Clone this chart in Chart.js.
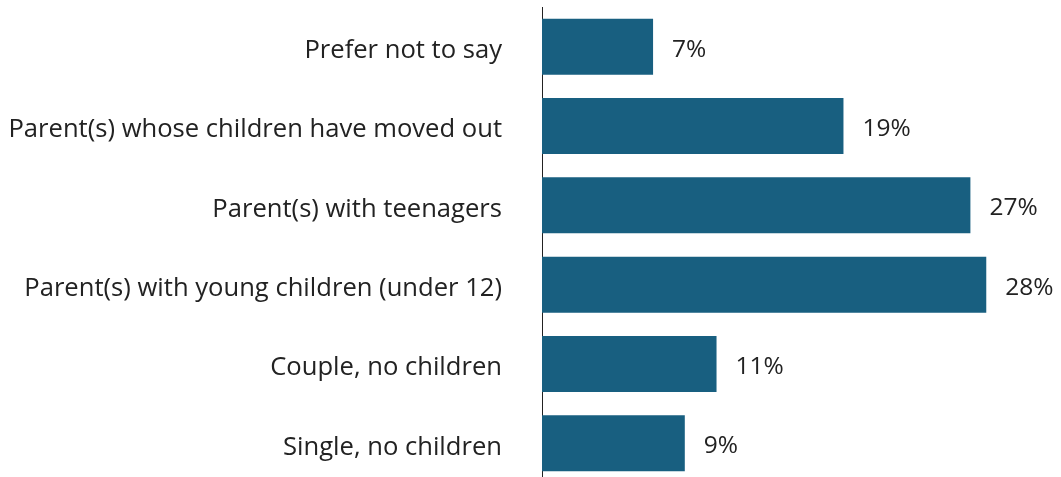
<!DOCTYPE html>
<html>
<head>
<meta charset="utf-8">
<script src="https://cdn.jsdelivr.net/npm/chart.js@4/dist/chart.umd.min.js"></script>
<style>
  html, body { margin: 0; padding: 0; background: #ffffff; overflow: hidden; }
  #wrap { position: relative; width: 1061px; height: 483px; }
</style>
</head>
<body>
<div id="wrap"><canvas id="c" width="1061" height="483"></canvas></div>
<script>
const categories = [
  "Prefer not to say",
  "Parent(s) whose children have moved out",
  "Parent(s) with teenagers",
  "Parent(s) with young children (under 12)",
  "Couple, no children",
  "Single, no children"
];
const values = [7, 19, 27, 28, 11, 9];
const valueLabels = ["7%", "19%", "27%", "28%", "11%", "9%"];

const FONT = '"Open Sans", sans-serif';
const TEXT = '#222222';
const BAR = '#185F80';

const valueLabelPlugin = {
  id: 'valueLabels',
  afterDatasetsDraw(chart) {
    const ctx = chart.ctx;
    const meta = chart.getDatasetMeta(0);
    ctx.save();
    ctx.font = '400 24.5px ' + FONT;
    ctx.fillStyle = TEXT;
    ctx.textAlign = 'left';
    ctx.textBaseline = 'middle';
    meta.data.forEach((bar, i) => {
      ctx.fillText(valueLabels[i], bar.x + 19, bar.y + 3);
    });
    ctx.restore();
  }
};

new Chart(document.getElementById('c'), {
  type: 'bar',
  data: {
    labels: categories,
    datasets: [{
      data: values,
      backgroundColor: BAR,
      borderWidth: 0,
      categoryPercentage: 1.0,
      barPercentage: 0.706
    }]
  },
  options: {
    indexAxis: 'y',
    responsive: false,
    animation: false,
    devicePixelRatio: 1,
    layout: { padding: { top: 7, right: 43, bottom: 0, left: 0 } },
    plugins: { legend: { display: false }, tooltip: { enabled: false } },
    scales: {
      x: { display: false, min: 0, max: 30 },
      y: {
        afterFit(scale) {
          scale.width = 542;
          scale.paddingTop = 0;
          scale.paddingBottom = 0;
        },
        grid: { display: true, color: 'rgba(0,0,0,0)', drawTicks: false },
        border: { display: true, color: TEXT, width: 1 },
        ticks: {
          padding: 40,
          labelOffset: 4,
          color: TEXT,
          font: { family: FONT, size: 25.6, weight: '400' }
        }
      }
    }
  },
  plugins: [valueLabelPlugin]
});
</script>
</body>
</html>
